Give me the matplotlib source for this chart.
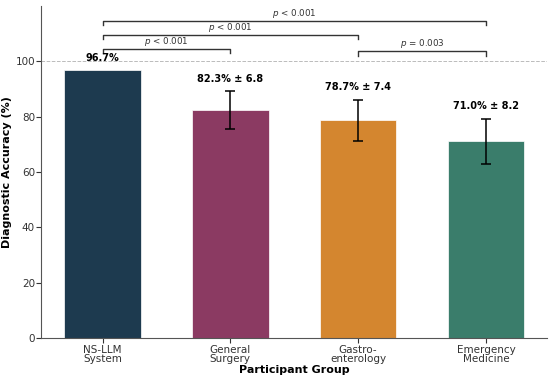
import matplotlib
matplotlib.use("Agg")
import matplotlib.pyplot as plt
import numpy as np

groups = ["NS-LLM\nSystem", "General\nSurgery", "Gastro-\nenterology", "Emergency\nMedicine"]
means = [96.7, 82.3, 78.7, 71.0]
sds = [0.0, 6.8, 7.4, 8.2]
value_labels = ["96.7%", "82.3% ± 6.8", "78.7% ± 7.4", "71.0% ± 8.2"]
colors = ["#1d3a4f", "#8b3a62", "#d4862f", "#3a7d6b"]

comparisons = [(0, 3, "$p$ < 0.001", 114.5), (0, 2, "$p$ < 0.001", 109.4),
               (0, 1, "$p$ < 0.001", 104.3), (2, 3, "$p$ = 0.003", 103.5)]

fig = plt.figure(figsize=(5.5, 3.8), dpi=100)
ax = fig.add_axes([0.075, 0.11, 0.92, 0.875])

x = np.arange(len(groups))
ax.bar(x, means, width=0.6, color=colors, edgecolor="white", linewidth=0.5, zorder=2)
for i in range(len(groups)):
    if sds[i] > 0:
        ax.errorbar(x[i], means[i], yerr=sds[i], fmt="none", ecolor="black",
                    elinewidth=1.1, capsize=3.3, capthick=1.1, zorder=3)
    top = means[i] + sds[i]
    ax.text(x[i], top + 2.8, value_labels[i], ha="center", va="bottom",
            fontsize=7, fontweight="bold")

ax.axhline(100, color="#bbbbbb", linestyle="--", linewidth=0.7, zorder=1)

for a, b, label, y in comparisons:
    h = 1.5
    ax.plot([x[a], x[a], x[b], x[b]], [y - h, y, y, y - h], color="#333333", linewidth=1.0)
    ax.text((x[a] + x[b]) / 2, y + 0.4, label, ha="center", va="bottom", fontsize=6.3, color="#333333")

ax.set_xlim(-0.48, 3.48)
ax.set_ylim(0, 120)
ax.set_yticks([0, 20, 40, 60, 80, 100])
ax.set_xticks(x)
ax.set_xticklabels(groups, fontsize=7.5, linespacing=0.95)
ax.tick_params(axis="y", labelsize=7.5, colors="#333333", pad=1, length=3.5)
ax.tick_params(axis="x", colors="#333333", pad=1.2)
ax.set_xlabel("Participant Group", fontsize=8, fontweight="bold", labelpad=0.5)
ax.set_ylabel("Diagnostic Accuracy (%)", fontsize=8, fontweight="bold", labelpad=2.5)
for s in ["top", "right"]:
    ax.spines[s].set_visible(False)
for s in ["left", "bottom"]:
    ax.spines[s].set_color("#555555")

fig.savefig("out.png", dpi=100)
